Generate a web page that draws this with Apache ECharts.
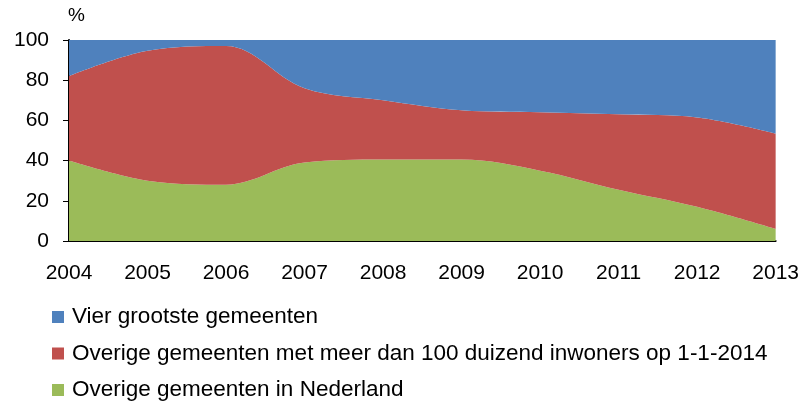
<!DOCTYPE html>
<html>
<head>
<meta charset="utf-8">
<script src="https://cdn.jsdelivr.net/npm/echarts@6/dist/echarts.min.js"></script>
<style>
html,body{margin:0;padding:0;background:#fff;}
#chart{width:802px;height:403px;}
</style>
</head>
<body>
<div id="chart"></div>
<script>
var years = ['2004','2005','2006','2007','2008','2009','2010','2011','2012','2013'];
var overigNederland = [40, 30, 28, 39, 40.5, 40.5, 35, 25.5, 17, 6];
var overig100 = [42, 64.6, 69, 37, 29.5, 24.5, 29, 37.5, 44.5, 47.5];
var vierGrootste = [18, 5.4, 3, 24, 30, 35, 36, 37, 38.5, 46.5];
var yTicks = [0, 20, 40, 60, 80, 100];

var names = ['Vier grootste gemeenten',
  'Overige gemeenten met meer dan 100 duizend inwoners op 1-1-2014',
  'Overige gemeenten in Nederland'];
var font = 'Arial, "Liberation Sans", sans-serif';
var chart = echarts.init(document.getElementById('chart'), null, {renderer:'canvas'});
function area(name, data, color){
  return {
    name: name, type: 'line', stack: 'total', data: data,
    smooth: 0.35, symbol: 'none',
    lineStyle: {width: 0}, areaStyle: {color: color, opacity: 1},
    itemStyle: {color: color}
  };
}
function legend(name, top){
  return {
    data: [name], orient: 'horizontal', left: 52, top: top,
    icon: 'rect', itemWidth: 12, itemHeight: 12, padding: 0,
    selectedMode: false,
    textStyle: {fontFamily: font, fontSize: 22.5, color: '#000', lineHeight: 22, padding: [0,0,0,3]}
  };
}
chart.setOption({
  animation: false,
  grid: {left: 69, right: 26, top: 40, bottom: 162, containLabel: false},
  graphic: [{type:'text', left: 68, top: 6, style:{text:'%', font:'19px ' + font, fill:'#000'}}],
  legend: [legend(names[0], 305.5), legend(names[1], 342), legend(names[2], 378.5)],
  xAxis: {
    type: 'category', data: years, boundaryGap: false,
    axisLine: {lineStyle: {color: '#000', width: 2}},
    axisTick: {show: false},
    axisLabel: {fontFamily: font, fontSize: 21, color: '#000', margin: 22, interval: 0},
    splitLine: {show: false}
  },
  yAxis: {
    type: 'value', min: 0, max: 100, interval: 20,
    axisLine: {show: true, lineStyle: {color: '#000', width: 2}},
    axisTick: {show: true, length: 6, lineStyle: {color: '#000'}},
    axisLabel: {fontFamily: font, fontSize: 21, color: '#000', margin: 20,
      formatter: function(v){ return yTicks.indexOf(v) >= 0 ? String(v) : ''; }},
    splitLine: {show: false}
  },
  series: [
    area(names[2], overigNederland, '#9BBB59'),
    area(names[1], overig100, '#C0504D'),
    area(names[0], vierGrootste, '#4F81BD')
  ]
});
</script>
</body>
</html>
